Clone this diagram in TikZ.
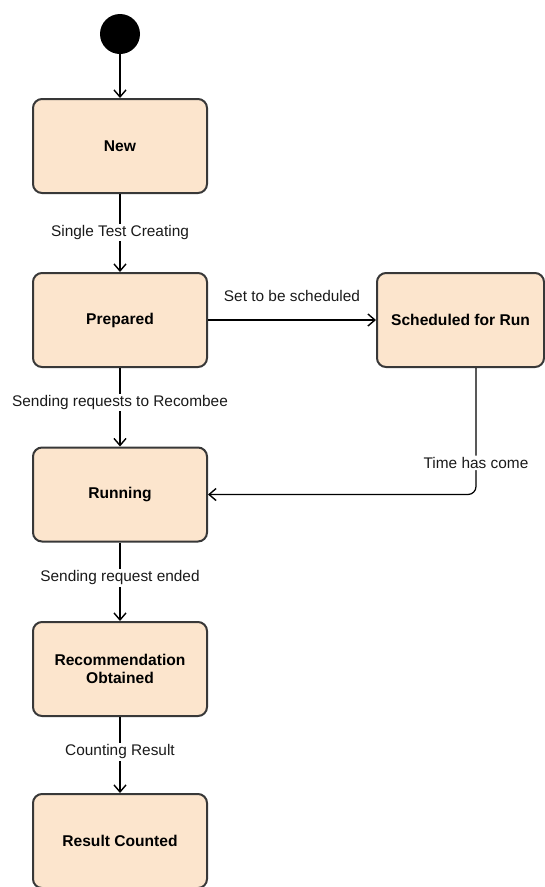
\documentclass[tikz,border=0pt]{standalone}
\usepackage{fontspec}
\setmainfont{Liberation Sans}
\usetikzlibrary{arrows.meta}
\definecolor{statefill}{HTML}{FCE5CD}
\definecolor{stateline}{HTML}{383838}
\definecolor{labeltext}{HTML}{1A1A1A}
\begin{document}
\begin{tikzpicture}[x=1pt,y=-1pt,
  state/.style={draw=stateline, line width=2pt, fill=statefill, rounded corners=9pt,
    minimum width=174pt, minimum height=94pt, align=center, inner sep=0pt,
    font=\fontsize{15.6}{18}\selectfont\bfseries},
  trans/.style={draw=black, line width=1.2pt,
    -{Straight Barb[length=7pt,width=12pt,line width=1.4pt]}},
  lbltext/.style={text=labeltext, font=\fontsize{15.4}{18}\selectfont},
  lbl/.style={lbltext, fill=white, inner sep=1.5pt}]
\useasboundingbox (0,0) rectangle (545,887);
\node[circle, fill=black, minimum size=40pt, inner sep=0pt] (init) at (120,34) {};
\node[state] (new) at (120,146) {New};
\node[state] (prep) at (120,320) {Prepared};
\node[state, minimum width=167pt] (sched) at (460.5,320) {Scheduled for Run};
\node[state] (run) at (120,494.5) {Running};
\node[state] (reco) at (120,669) {Recommendation\\Obtained};
\node[state] (done) at (120,841) {Result Counted};
\coordinate (bend) at (476,494.5);
\draw[trans] (init) -- (new);
\draw[trans] (new) -- node[lbl, pos=0.49] {Single Test Creating} (prep);
\draw[trans] (prep) -- node[lbl, pos=0.44] {Sending requests to Recombee} (run);
\draw[trans] (run) -- node[lbl, pos=0.45] {Sending request ended} (reco);
\draw[trans] (reco) -- node[lbl, pos=0.46] {Counting Result} (done);
\draw[trans] (prep) -- node[lbltext, above=14pt, pos=0.5] {Set to be scheduled} (sched);
\draw[trans, rounded corners=8pt] (sched.south -| bend) -- node[lbl, pos=0.75] {Time has come} (bend) -- (run.east);
\end{tikzpicture}
\end{document}
